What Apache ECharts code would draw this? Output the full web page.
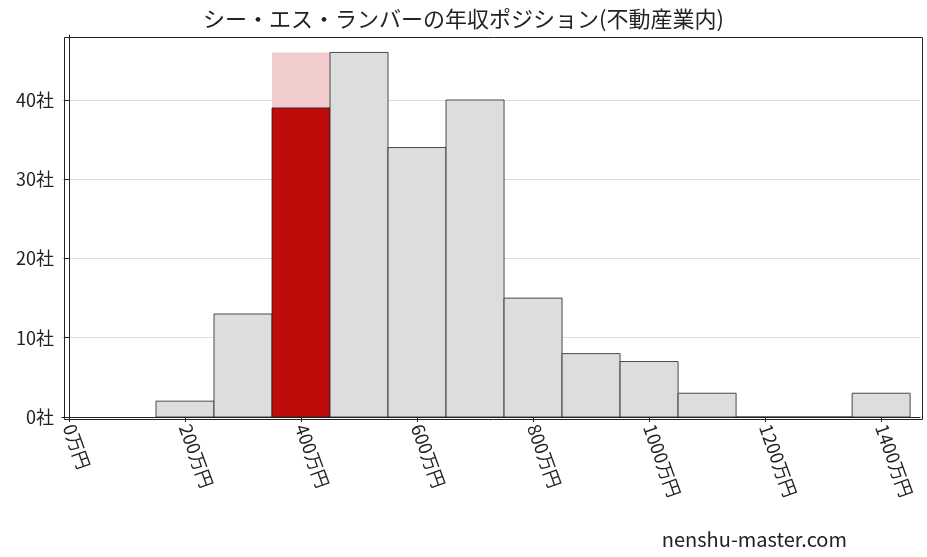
<!DOCTYPE html>
<html><head><meta charset="utf-8">
<script src="https://cdn.jsdelivr.net/npm/echarts@6/dist/echarts.min.js"></script>
<style>html,body{margin:0;padding:0;background:#fff}#c{width:927px;height:557px}</style>
</head><body><div id="c"></div>
<script>
const binStarts = [150,250,350,450,550,650,750,850,950,1050,1150,1250,1350];
const counts = [2,13,39,46,34,40,15,8,7,3,0,0,3];
const highlightIndex = 2;
const highlightGhost = 46;
const xTicks = [0,200,400,600,800,1000,1200,1400];
const yTicks = [0,10,20,30,40];
const binWidth = 100;
const F = '"Noto Sans CJK JP", serif';

const data = binStarts.map((s,i)=>[s, s+binWidth, counts[i], i===highlightIndex?1:0]);
const ghost = [[binStarts[highlightIndex], binStarts[highlightIndex]+binWidth, highlightGhost, 2]];

function render(params, api){
  const a = api.coord([api.value(0), 0]);
  const b = api.coord([api.value(1), api.value(2)]);
  const t = api.value(3);
  const fill = t===1 ? '#c00b0b' : t===2 ? '#f0cccc' : '#dcdddf';
  return {type:'rect', shape:{x:a[0], y:b[1], width:b[0]-a[0], height:a[1]-b[1]},
    style:{fill:fill, stroke: t===2?null:'#222', lineWidth: t===2?0:0.8}};
}
const chart = echarts.init(document.getElementById('c'));
chart.setOption({
  animation:false,
  title:{text:'シー・エス・ランバーの年収ポジション(不動産業内)', left:'center', top:3,
    textStyle:{fontFamily:F, fontSize:22, fontWeight:'normal', color:'#222'}},
  grid:{left:62, right:7, top:35, bottom:140},
  xAxis:{type:'value', min:-12, max:1467,
    splitLine:{show:false},
    axisLine:{lineStyle:{color:'#222'}},
    axisTick:{show:true, customValues:xTicks, lineStyle:{color:'#222'}},
    axisLabel:{customValues:xTicks, rotate:-70, formatter:v=>v+'万円', fontFamily:F, fontSize:18, color:'#222', margin:8}},
  yAxis:{type:'value', min:0, max:48.2, interval:10,
    axisLine:{show:true, lineStyle:{color:'#222'}},
    axisTick:{show:true, customValues:yTicks, lineStyle:{color:'#222'}},
    splitLine:{lineStyle:{color:'#ddd'}},
    axisLabel:{customValues:yTicks, formatter:v=>v+'社', fontFamily:F, fontSize:18, color:'#222'}},
  series:[
    {type:'custom', renderItem:render, data:ghost, encode:{x:[0,1], y:2}, z:1},
    {type:'custom', renderItem:render, data:data, encode:{x:[0,1], y:2}, z:2}
  ],
  graphic:[
    {type:'rect', left:62, top:35, shape:{width:858, height:382}, style:{fill:null, stroke:'#222', lineWidth:1}, silent:true},
    {type:'text', right:80, bottom:8, style:{text:'nenshu-master.com', font:'20px '+F, fill:'#222'}}
  ]
});
</script></body></html>
